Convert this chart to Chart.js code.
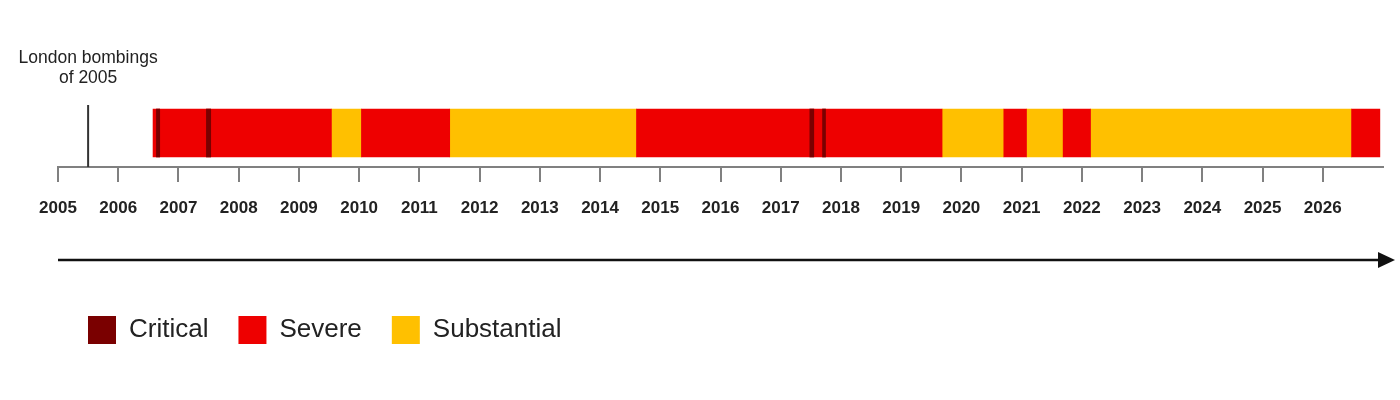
<!DOCTYPE html>
<html><head><meta charset="utf-8">
<script src="https://cdn.jsdelivr.net/npm/chart.js@4/dist/chart.umd.min.js"></script>
<style>html,body{margin:0;padding:0;background:#fff}#wrap{width:1400px;height:400px;position:relative}</style>
</head><body><div id="wrap"><canvas id="c"></canvas></div>
<script>
// ---- data ----
const rowLabel = ['UK threat level'];
const seriesNames = ['Critical', 'Severe', 'Substantial'];
const criticalPeriods = [[2006.634, 2006.689], [2007.464, 2007.536], [2017.483, 2017.549], [2017.694, 2017.744]];
const severePeriods = [[2006.578, 2009.540], [2010.038, 2011.504], [2014.605, 2019.679], [2020.704, 2021.081], [2021.689, 2022.144], [2026.478, 2026.948]];
const substantialPeriods = [[2009.540, 2010.038], [2011.504, 2014.605], [2019.679, 2020.704], [2021.081, 2021.689], [2022.144, 2026.478]];
const tickYears = [2005, 2006, 2007, 2008, 2009, 2010, 2011, 2012, 2013, 2014, 2015, 2016, 2017, 2018, 2019, 2020, 2021, 2022, 2023, 2024, 2025, 2026];
const yearMin = 2005, yearMax = 2027;
const eventYear = 2005.5;
const eventLabel = ['London bombings', 'of 2005'];

const FONT = '"Liberation Sans", Arial, Helvetica, sans-serif';
const toBars = periods => periods.map(p => ({ x: [p[0], p[1]], y: rowLabel[0] }));

const annotations = {
  id: 'annotations',
  afterDatasetsDraw(chart) {
    const { ctx, chartArea } = chart;
    const xs = chart.scales.x;
    const px = xs.getPixelForValue(eventYear);
    ctx.save();
    ctx.strokeStyle = '#333';
    ctx.lineWidth = 2;
    ctx.beginPath();
    ctx.moveTo(px, chartArea.top + 6);
    ctx.lineTo(px, chartArea.bottom);
    ctx.stroke();
    ctx.fillStyle = '#222';
    ctx.font = '17.5px ' + FONT;
    ctx.textAlign = 'center';
    ctx.textBaseline = 'middle';
    ctx.fillText(eventLabel[0], px, chartArea.top - 41);
    ctx.fillText(eventLabel[1], px, chartArea.top - 21);
    // time arrow
    const ay = chartArea.bottom + 93;
    const tip = chart.width - 5;
    ctx.strokeStyle = '#111';
    ctx.fillStyle = '#111';
    ctx.lineWidth = 2.5;
    ctx.beginPath();
    ctx.moveTo(chartArea.left, ay);
    ctx.lineTo(tip - 12, ay);
    ctx.stroke();
    ctx.beginPath();
    ctx.moveTo(tip, ay);
    ctx.lineTo(tip - 17, ay - 8);
    ctx.lineTo(tip - 17, ay + 8);
    ctx.closePath();
    ctx.fill();
    ctx.restore();
  }
};

new Chart(document.getElementById('c'), {
  type: 'bar',
  data: {
    labels: rowLabel,
    datasets: [
      { label: seriesNames[0], data: toBars(criticalPeriods), backgroundColor: '#7a0000', borderWidth: 0 },
      { label: seriesNames[1], data: toBars(severePeriods), backgroundColor: '#ee0000', borderWidth: 0 },
      { label: seriesNames[2], data: toBars(substantialPeriods), backgroundColor: '#ffc000', borderWidth: 0 }
    ]
  },
  options: {
    indexAxis: 'y',
    responsive: true,
    maintainAspectRatio: false,
    animation: false,
    devicePixelRatio: 1,
    grouped: false,
    barThickness: 48,
    layout: { padding: { top: 99, left: 58, right: 17, bottom: 46 } },
    scales: {
      x: {
        type: 'linear', min: yearMin, max: yearMax, position: 'bottom',
        afterBuildTicks: s => { s.ticks = tickYears.map(v => ({ value: v })); },
        afterFit: s => { s.height = 119; },
        ticks: { callback: v => String(v), font: { family: FONT, size: 17, weight: 'bold' }, color: '#222', padding: 16, maxRotation: 0, autoSkip: false },
        grid: { drawOnChartArea: false, drawTicks: true, tickLength: 15, color: '#808080', lineWidth: 2, tickWidth: 2 },
        border: { display: true, color: '#808080', width: 2 }
      },
      y: { type: 'category', display: false, offset: true }
    },
    plugins: {
      tooltip: { enabled: false },
      legend: {
        position: 'bottom', align: 'start',
        labels: { boxWidth: 28, boxHeight: 28, padding: 30, color: '#222', font: { family: FONT, size: 26 } }
      }
    }
  },
  plugins: [annotations]
});
</script>
</body></html>
